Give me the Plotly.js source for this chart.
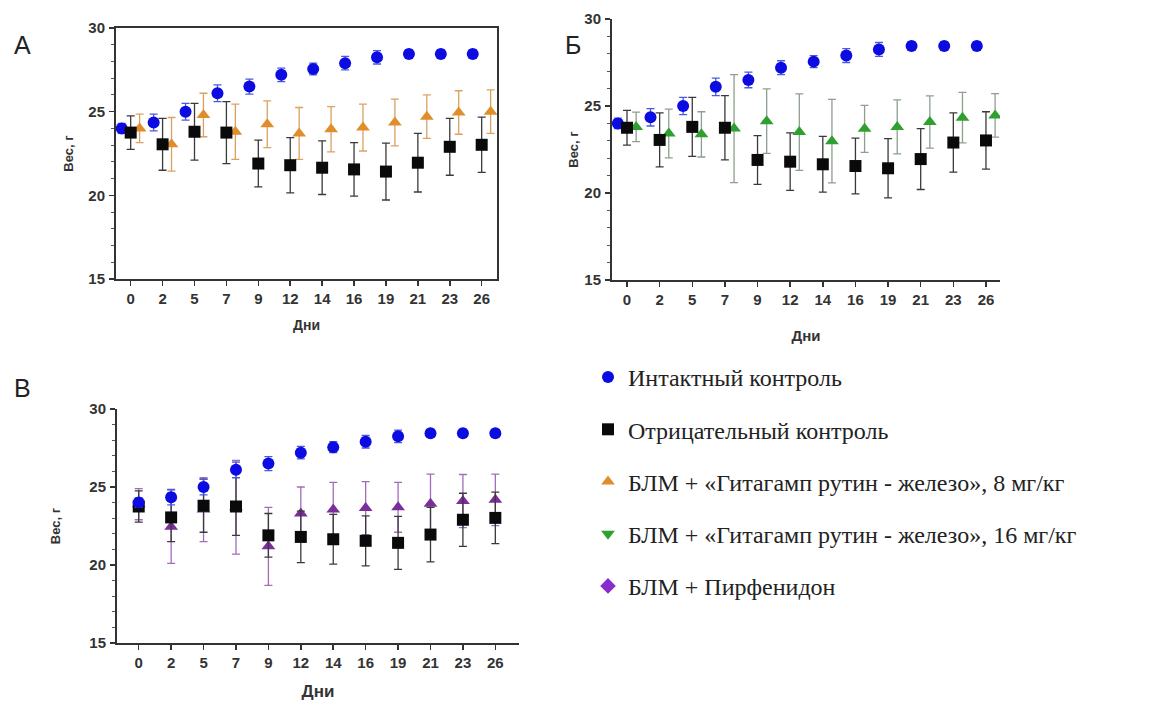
<!DOCTYPE html>
<html>
<head>
<meta charset="utf-8">
<script src="https://cdn.plot.ly/plotly-3.0.1.min.js"></script>
<style>html,body{margin:0;padding:0;background:#fff;}#chart{width:1165px;height:709px;}</style>
</head>
<body>
<div id="chart"></div>
<script>
// ---- data ----
const days = [0, 2, 5, 7, 9, 12, 14, 16, 19, 21, 23, 26];
const intact    = [24.0, 24.35, 25.0, 26.1, 26.5, 27.2, 27.55, 27.9, 28.25, 28.45, 28.45, 28.45];
const intactErr = [0.3, 0.5, 0.5, 0.5, 0.45, 0.4, 0.35, 0.4, 0.4, 0.25, 0.25, 0.25];
const negative    = [23.75, 23.05, 23.8, 23.75, 21.9, 21.8, 21.65, 21.55, 21.42, 21.95, 22.9, 23.02];
const negativeErr = [1.0, 1.55, 1.7, 1.85, 1.4, 1.65, 1.6, 1.6, 1.7, 1.75, 1.7, 1.65];
const dose8    = [24.0, 23.05, 24.8, 23.8, 24.25, 23.7, 23.95, 24.05, 24.35, 24.7, 24.95, 25.0];
const dose8Err = [0.85, 1.6, 1.3, 1.65, 1.4, 1.55, 1.35, 1.4, 1.4, 1.3, 1.3, 1.3];
const dose16    = [23.8, 23.42, 23.37, 23.7, 24.13, 23.5, 22.98, 23.69, 23.8, 24.08, 24.33, 24.46];
const dose16Err = [0.85, 1.4, 1.3, 3.1, 1.85, 2.2, 2.4, 1.35, 1.55, 1.5, 1.45, 1.25];
const pirf    = [23.9, 22.45, 23.55, 23.7, 21.2, 23.3, 23.55, 23.65, 23.7, 23.93, 24.1, 24.18];
const pirfErr = [1.0, 2.35, 2.05, 3.0, 2.5, 1.7, 1.75, 1.7, 1.6, 1.9, 1.7, 1.65];

const names = [
  'Интактный контроль',
  'Отрицательный контроль',
  'БЛМ + «Гитагамп рутин - железо», 8 мг/кг',
  'БЛМ + «Гитагамп рутин - железо», 16 мг/кг',
  'БЛМ + Пирфенидон'
];
const tickLabels = days.map(String);
const panelLetters = ['А', 'Б', 'В'];
const yTitle = 'Вес, г';
const xTitle = 'Дни';

// ---- styles ----
const C = {blue:'#0c0ce2', black:'#0a0a0a', orange:'#e08e2c', green:'#2f9f2f', purple:'#7b2d9b'};
const E = {blue:'#4a5ae0', black:'#3a3a3a', orange:'#d9a262', green:'#8f9f8f', purple:'#a36cbb'};
const idx = days.map((d, i) => i);
const shift = 0.28; // side-by-side offset inside a day group

function series(y, err, color, ecolor, symbol, size, ax, off) {
  return {
    type: 'scatter', mode: 'markers',
    x: idx.map(i => i + off), y: y,
    xaxis: 'x' + ax, yaxis: 'y' + ax,
    marker: {color: color, symbol: symbol, size: size, line: {width: 0}},
    error_y: {type: 'data', array: err, visible: true, color: ecolor, thickness: 1.3, width: 4},
    showlegend: false, hoverinfo: 'skip'
  };
}

const traces = [
  // Panel A
  series(intact, intactErr, C.blue, E.blue, 'circle', 12, '', -shift),
  series(dose8, dose8Err, C.orange, E.orange, 'triangle-up', 12, '', shift),
  series(negative, negativeErr, C.black, E.black, 'square', 12, '', 0),
  // Panel Б
  series(intact, intactErr, C.blue, E.blue, 'circle', 12, '2', -shift),
  series(dose16, dose16Err, C.green, E.green, 'triangle-up', 12, '2', shift),
  series(negative, negativeErr, C.black, E.black, 'square', 12, '2', 0),
  // Panel В
  series(pirf, pirfErr, C.purple, E.purple, 'triangle-up', 12, '3', 0),
  series(negative, negativeErr, C.black, E.black, 'square', 12, '3', 0),
  series(intact, intactErr, C.blue, E.blue, 'circle', 12, '3', 0)
];

// legend-only entries
const legendSymbols = ['circle', 'square', 'triangle-up', 'triangle-down', 'diamond'];
const legendColors = [C.blue, C.black, C.orange, C.green, '#8a2ccc'];
names.forEach((n, k) => {
  traces.push({
    type: 'scatter', mode: 'markers', x: [null], y: [null],
    name: n, legendgroup: 'g' + k, showlegend: true,
    marker: {color: legendColors[k], symbol: legendSymbols[k], size: 11}
  });
});

const tickFont = {family: 'Liberation Sans, Arial, sans-serif', size: 15, weight: 'bold', color: '#333'};
const titleFont = {family: 'Liberation Sans, Arial, sans-serif', size: 14, weight: 'bold', color: '#333'};

function xAxis(domain, range, anchor, mirror, standoff, tsize) {
  return {
    domain: domain, range: range, anchor: anchor,
    tickmode: 'array', tickvals: idx, ticktext: tickLabels,
    tickprefix: '<b>', ticksuffix: '</b>',
    ticks: 'outside', ticklen: 5, tickwidth: 1.5, tickcolor: '#333',
    showline: true, linecolor: '#333', linewidth: 2, mirror: mirror,
    showgrid: false, zeroline: false, automargin: false,
    tickfont: tickFont, ticklabelstandoff: 0,
    title: {text: '<b>' + xTitle + '</b>', font: Object.assign({}, titleFont, {size: tsize}), standoff: standoff}
  };
}
function yAxis(domain, anchor, mirror, standoff) {
  return {
    domain: domain, range: [15, 30], anchor: anchor,
    tickmode: 'linear', tick0: 15, dtick: 5,
    tickprefix: '<b>', ticksuffix: '</b>',
    ticks: 'outside', ticklen: 5, tickwidth: 1.5, tickcolor: '#333',
    minor: {dtick: 1, ticks: 'outside', ticklen: 3, tickwidth: 1, tickcolor: '#555'},
    showline: true, linecolor: '#333', linewidth: 2, mirror: mirror,
    showgrid: false, zeroline: false, automargin: false,
    tickfont: tickFont, ticklabelstandoff: 1,
    title: {text: '<b>' + yTitle + '</b>', font: Object.assign({}, titleFont, {size: 13}), standoff: standoff}
  };
}

const W = 1165, H = 709;
const layout = {
  width: W, height: H,
  margin: {l: 0, r: 0, t: 0, b: 0},
  paper_bgcolor: '#fff', plot_bgcolor: '#fff',
  xaxis:  xAxis([116 / W, 497 / W], [-0.46, 11.48], 'y', true, 14, 14),
  yaxis:  yAxis([1 - 279 / H, 1 - 28 / H], 'x', true, 12),
  xaxis2: xAxis([612 / W, 1000 / W], [-0.46, 11.43], 'y2', false, 23, 15),
  yaxis2: yAxis([1 - 280 / H, 1 - 19 / H], 'x2', false, 3),
  xaxis3: xAxis([117 / W, 519 / W], [-0.67, 11.73], 'y3', false, 15, 17),
  yaxis3: yAxis([1 - 643 / H, 1 - 409 / H], 'x3', false, 26),
  showlegend: true,
  legend: {
    x: 588 / W, y: 1 - 355 / H, xanchor: 'left', yanchor: 'top',
    font: {family: 'Liberation Serif, Times New Roman, serif', size: 24, color: '#222'},
    traceorder: 'grouped', tracegroupgap: 18, itemsizing: 'constant',
    bgcolor: 'rgba(0,0,0,0)', borderwidth: 0
  },
  annotations: [
    {text: panelLetters[0], x: 12 / W, y: 1 - 45 / H, xref: 'paper', yref: 'paper', xanchor: 'left', yanchor: 'middle', showarrow: false, font: {family: 'Liberation Sans, Arial, sans-serif', size: 25, color: '#222'}},
    {text: panelLetters[1], x: 563 / W, y: 1 - 45 / H, xref: 'paper', yref: 'paper', xanchor: 'left', yanchor: 'middle', showarrow: false, font: {family: 'Liberation Sans, Arial, sans-serif', size: 25, color: '#222'}},
    {text: panelLetters[2], x: 12 / W, y: 1 - 388 / H, xref: 'paper', yref: 'paper', xanchor: 'left', yanchor: 'middle', showarrow: false, font: {family: 'Liberation Sans, Arial, sans-serif', size: 25, color: '#222'}}
  ]
};

Plotly.newPlot('chart', traces, layout, {staticPlot: true, displayModeBar: false});
</script>
</body>
</html>
